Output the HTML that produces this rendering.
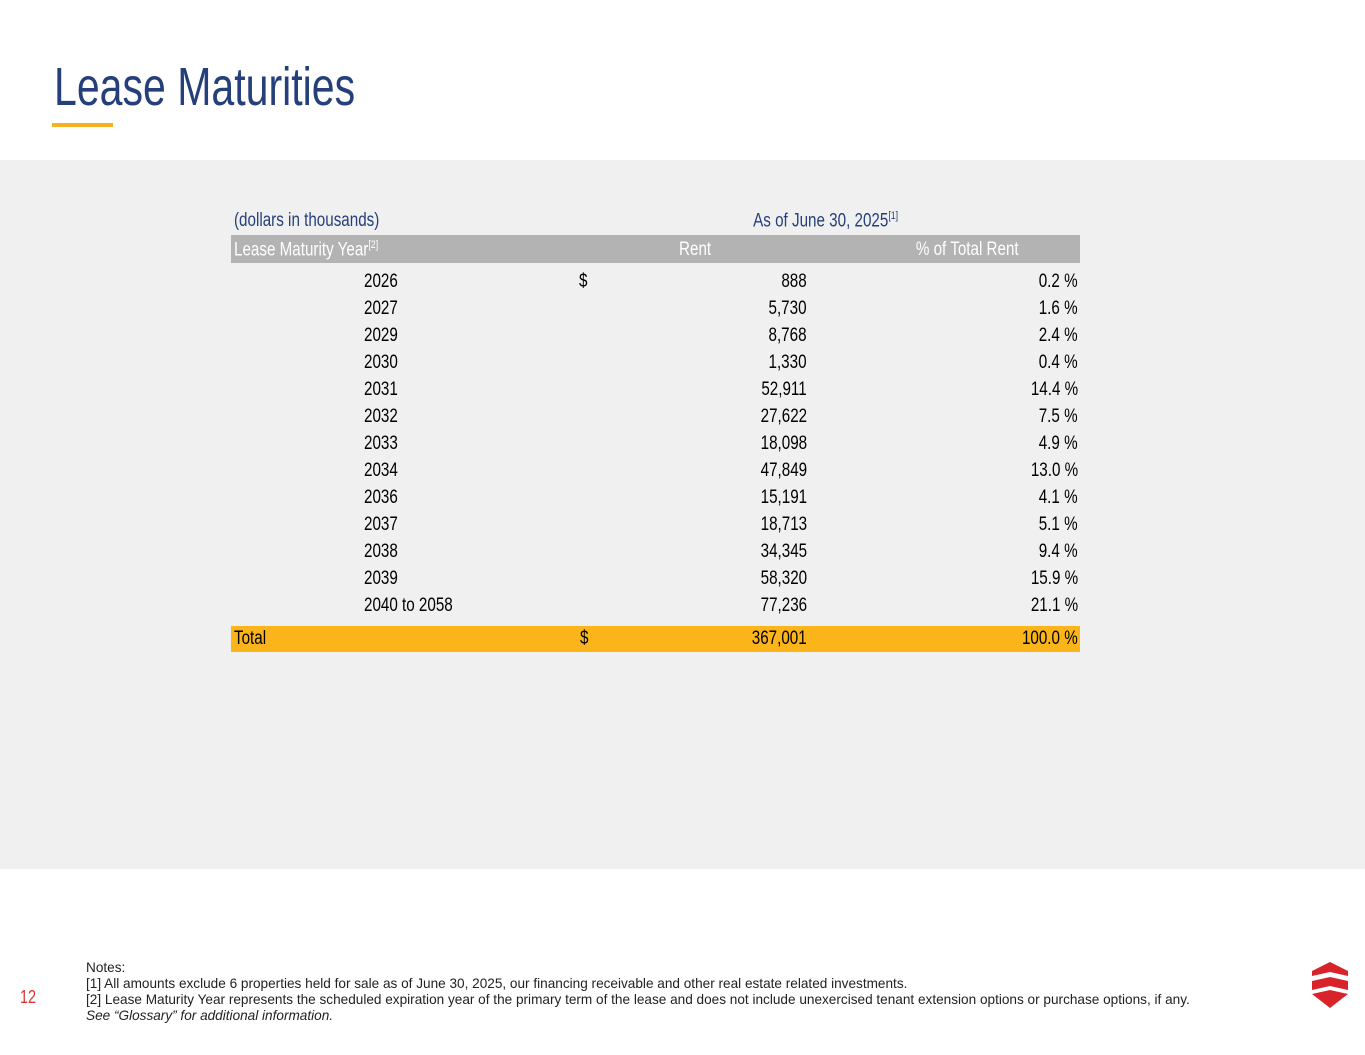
<!DOCTYPE html>
<html><head><meta charset="utf-8"><style>
body{margin:0;width:1365px;height:1055px;position:relative;background:#fff;font-family:"Liberation Sans",sans-serif;overflow:hidden}
.a{position:absolute;white-space:nowrap}
.c{display:inline-block;transform:scaleX(0.8)}
.r .c{transform-origin:right center}
.l .c{transform-origin:left center}
.m .c{transform-origin:center center}
.r{text-align:right}
.m{text-align:center}
</style></head><body>
<div class="a l" style="left:54px;top:55px;font-size:54px;color:#253f7a;line-height:64px"><span class="c" style="transform:scaleX(0.76)">Lease Maturities</span></div>
<div class="a" style="left:52px;top:123px;width:61px;height:4px;background:#f5b41f"></div>
<div class="a" style="left:0;top:160px;width:1365px;height:709px;background:#f0f0f0"></div>
<div class="a l" style="left:234px;top:210px;font-size:19px;color:#253f7a"><span class="c">(dollars in thousands)</span></div>
<div class="a m" style="left:676px;width:300px;top:210px;font-size:19px;color:#253f7a"><span class="c">As of June 30, 2025<sup style="font-size:11px">[1]</sup></span></div>
<div class="a" style="left:231px;top:235px;width:849px;height:28px;background:#b3b3b3"></div>
<div class="a l" style="left:234px;top:239px;font-size:19px;color:#fff"><span class="c">Lease Maturity Year<sup style="font-size:11px">[2]</sup></span></div>
<div class="a m" style="left:645px;width:100px;top:239px;font-size:19px;color:#fff"><span class="c">Rent</span></div>
<div class="a m" style="left:887px;width:160px;top:239px;font-size:19px;color:#fff"><span class="c">% of Total Rent</span></div>
<div id="rows"></div>
<div class="a" style="left:231px;top:626px;width:849px;height:26px;background:#fbb41a"></div>
<div class="a l" style="left:234px;top:628px;font-size:19px;color:#000"><span class="c">Total</span></div>
<div class="a" style="left:579px;top:628px;font-size:19px;color:#000"><span class="c">$</span></div>
<div class="a r" style="left:607px;width:200px;top:628px;font-size:19px;color:#000"><span class="c">367,001</span></div>
<div class="a r" style="left:878px;width:200px;top:628px;font-size:19px;color:#000"><span class="c">100.0 %</span></div>
<div class="a" style="left:86px;top:960px;font-size:13.6px;line-height:16px;color:#222">Notes:<br>[1] All amounts exclude 6 properties held for sale as of June 30, 2025, our financing receivable and other real estate related investments.<br>[2] Lease Maturity Year represents the scheduled expiration year of the primary term of the lease and does not include unexercised tenant extension options or purchase options, if any.<br><i>See “Glossary” for additional information.</i></div>
<div class="a" style="left:18px;top:987px;font-size:18px;color:#e03030"><span class="c">12</span></div>
<svg class="a" style="left:1310px;top:960px" width="40" height="50" viewBox="0 0 40 50">
<polygon points="20,2 38,11 38,16 20,12 2,16 2,11" fill="#d9232a"/>
<polygon points="2,21 20,17 38,21 38,30 20,26 2,30" fill="#d9232a"/>
<polygon points="2,34 20,30 38,34 20,48" fill="#d9232a"/>
</svg>
<script>
const years=["2026","2027","2029","2030","2031","2032","2033","2034","2036","2037","2038","2039","2040 to 2058"];
const rents=["888","5,730","8,768","1,330","52,911","27,622","18,098","47,849","15,191","18,713","34,345","58,320","77,236"];
const pcts=["0.2","1.6","2.4","0.4","14.4","7.5","4.9","13.0","4.1","5.1","9.4","15.9","21.1"];
const host=document.getElementById('rows');
function cell(cls,left,width,top,txt,name){
 const d=document.createElement('div');
 d.className='a '+cls;
 
 
 d.style.cssText='left:'+left+'px;'+(width?'width:'+width+'px;':'')+'top:'+top+'px;font-size:19px;color:#000';
 d.innerHTML='<span class="c">'+txt+'</span>';
 host.appendChild(d);
}
years.forEach((y,i)=>{
 const t=271+i*27;
 cell('l',364,0,t,y,'row-year');
 cell('r',607,200,t,rents[i],'row-rent');
 cell('r',878,200,t,pcts[i]+' %','row-pct');
 if(i===0)cell('l',579,0,t,'$','row-dollar');
});
</script>
</body></html>
